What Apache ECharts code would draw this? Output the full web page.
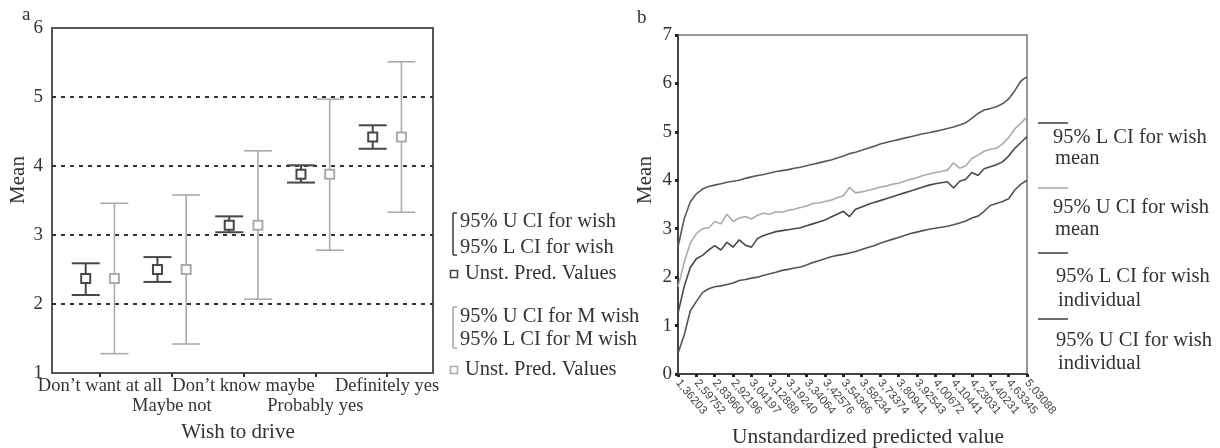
<!DOCTYPE html>
<html lang="en">
<head>
<meta charset="utf-8">
<title>Wish to drive - predicted values</title>
<script src="https://cdn.jsdelivr.net/npm/echarts@6/dist/echarts.min.js"></script>
<style>
  html, body { margin: 0; padding: 0; background: #fff; }
  #chart { width: 1220px; height: 448px; }
</style>
</head>
<body>
<div id="chart"></div>
<script>
// ---- panel a: predicted values with 95% CIs, by answer ----
const wishCategories = ['Don\u2019t want at all', 'Maybe not', 'Don\u2019t know maybe', 'Probably yes', 'Definitely yes'];
const predMean    = [2.37, 2.50, 3.14, 3.88, 4.42];
const ciWishLow   = [2.13, 2.32, 3.04, 3.76, 4.25];
const ciWishHigh  = [2.59, 2.68, 3.27, 4.01, 4.59];
const ciMWishLow  = [1.28, 1.42, 2.07, 2.78, 3.33];
const ciMWishHigh = [3.46, 3.58, 4.22, 4.97, 5.51];

// ---- panel b: CI bands along the sorted predicted value ----
const predTickLabels = ['1,36203', '2,59752', '2,83960', '2,92196', '3,04197', '3,12888', '3,19240',
  '3,34064', '3,42576', '3,54366', '3,58234', '3,73374', '3,80941', '3,92543', '4,00672',
  '4,10441', '4,23031', '4,40231', '4,63345', '5,03088'];
const stepsPerTick = 3; // points drawn between two labelled ticks

const upperIndividual = [2.62, 3.20, 3.55, 3.72, 3.82, 3.87, 3.90, 3.93, 3.96, 3.98, 4.00, 4.04, 4.07, 4.10,
  4.12, 4.15, 4.18, 4.20, 4.22, 4.25, 4.27, 4.30, 4.33, 4.36, 4.39, 4.42, 4.46, 4.50, 4.55, 4.58,
  4.62, 4.66, 4.70, 4.75, 4.78, 4.81, 4.84, 4.87, 4.90, 4.93, 4.96, 4.98, 5.01, 5.04, 5.07, 5.10,
  5.14, 5.19, 5.28, 5.38, 5.45, 5.48, 5.52, 5.58, 5.68, 5.85, 6.05, 6.14];
const upperMean = [1.80, 2.30, 2.70, 2.90, 3.00, 3.02, 3.15, 3.10, 3.30, 3.15, 3.22, 3.25, 3.20, 3.28,
  3.32, 3.30, 3.35, 3.34, 3.38, 3.40, 3.44, 3.47, 3.52, 3.53, 3.56, 3.59, 3.64, 3.68, 3.85, 3.74,
  3.76, 3.79, 3.82, 3.86, 3.88, 3.92, 3.94, 3.98, 4.02, 4.05, 4.10, 4.13, 4.16, 4.18, 4.21, 4.36,
  4.25, 4.30, 4.45, 4.52, 4.60, 4.64, 4.66, 4.75, 4.88, 5.06, 5.18, 5.31];
const lowerMean = [1.26, 1.80, 2.20, 2.38, 2.45, 2.56, 2.65, 2.56, 2.72, 2.62, 2.77, 2.66, 2.62, 2.80,
  2.86, 2.90, 2.94, 2.96, 2.98, 3.00, 3.02, 3.06, 3.10, 3.14, 3.18, 3.24, 3.30, 3.36, 3.25, 3.40,
  3.45, 3.50, 3.54, 3.58, 3.62, 3.66, 3.70, 3.74, 3.78, 3.82, 3.86, 3.90, 3.93, 3.95, 3.97, 3.84,
  3.98, 4.02, 4.16, 4.10, 4.24, 4.28, 4.32, 4.38, 4.50, 4.66, 4.78, 4.90];
const lowerIndividual = [0.43, 0.80, 1.30, 1.50, 1.68, 1.76, 1.80, 1.82, 1.85, 1.88, 1.93, 1.95, 1.98, 2.00,
  2.04, 2.07, 2.10, 2.14, 2.16, 2.19, 2.21, 2.25, 2.30, 2.34, 2.38, 2.42, 2.45, 2.47, 2.50, 2.53,
  2.57, 2.61, 2.65, 2.70, 2.74, 2.78, 2.82, 2.86, 2.90, 2.93, 2.96, 2.99, 3.01, 3.03, 3.05, 3.08,
  3.12, 3.16, 3.22, 3.26, 3.36, 3.48, 3.52, 3.56, 3.62, 3.80, 3.92, 4.00];

const SERIF = '"Liberation Serif", "DejaVu Serif", serif';
const DARK = '#474747';
const LIGHT = '#ababab';
const TEXT = '#333';
const LEG = 20.5;

// category axis for panel b: every 3rd point carries a tick label
const predCategories = upperIndividual.map((_, i) =>
  i % stepsPerTick === 0 ? predTickLabels[i / stepsPerTick] : '');

const chart = echarts.init(document.getElementById('chart'), null, { renderer: 'canvas' });

function ciBars(name, low, high, shift, color, width) {
  return {
    name: name,
    type: 'custom',
    xAxisIndex: 0, yAxisIndex: 0,
    z: 2,
    data: low.map((v, i) => [i, v, high[i]]),
    renderItem: function (params, api) {
      const x = api.value(0) + shift;
      const lo = api.coord([x, api.value(1)]);
      const hi = api.coord([x, api.value(2)]);
      const half = 14;
      const st = { stroke: color, lineWidth: width };
      return {
        type: 'group',
        children: [
          { type: 'line', shape: { x1: lo[0], y1: lo[1], x2: hi[0], y2: hi[1] }, style: st },
          { type: 'line', shape: { x1: hi[0] - half, y1: hi[1], x2: hi[0] + half, y2: hi[1] }, style: st },
          { type: 'line', shape: { x1: lo[0] - half, y1: lo[1], x2: lo[0] + half, y2: lo[1] }, style: st }
        ]
      };
    }
  };
}

function meanMarks(name, shift, color) {
  return {
    name: name,
    type: 'scatter',
    xAxisIndex: 0, yAxisIndex: 0,
    z: 3,
    symbol: 'rect',
    symbolSize: 9,
    itemStyle: { color: '#fff', borderColor: color, borderWidth: 2, opacity: 1 },
    data: predMean.map((v, i) => [i + shift, v])
  };
}

function bandLine(name, data, color) {
  return {
    name: name,
    type: 'line',
    xAxisIndex: 2, yAxisIndex: 1,
    data: data,
    showSymbol: false,
    lineStyle: { color: color, width: 1.6 },
    itemStyle: { color: color }
  };
}

function txt(text, x, y, size, extra) {
  return Object.assign({
    type: 'text', x: x, y: y, silent: true,
    style: {
      text: text, fill: TEXT, fontFamily: SERIF, fontSize: size,
      align: (extra && extra.align) || 'left', verticalAlign: 'middle'
    }
  }, extra && extra.rotation ? { rotation: extra.rotation } : {});
}

function seg(x1, y1, x2, y2, color, w) {
  return { type: 'line', silent: true, shape: { x1: x1, y1: y1, x2: x2, y2: y2 }, style: { stroke: color, lineWidth: w } };
}

function bracket(x, y1, y2, color) {
  return [seg(x, y1, x, y2, color, 1.6), seg(x, y1, x + 4, y1, color, 1.6), seg(x, y2, x + 4, y2, color, 1.6)];
}

function square(x, y, color) {
  return { type: 'rect', silent: true, shape: { x: x - 3.5, y: y - 3.5, width: 7, height: 7 },
    style: { fill: '#fff', stroke: color, lineWidth: 1.6 } };
}

// two label rows under panel a: even answers on the first row, odd ones on the second
function wishAxis(values, margin, main) {
  return {
    gridIndex: 0, type: 'value', min: -0.67, max: 4.64, position: 'bottom',
    axisLine: { show: main, lineStyle: { color: '#555', width: 2 } },
    axisTick: { show: main, customValues: [0, 1, 2, 3, 4], length: 4, lineStyle: { color: '#333', width: 2 } },
    axisLabel: {
      customValues: values, showMinLabel: true, showMaxLabel: true, hideOverlap: false,
      margin: margin, fontSize: 18.5, color: TEXT, fontFamily: SERIF,
      formatter: function (v) { return wishCategories[Math.round(v)]; }
    },
    splitLine: { show: false }
  };
}

const graphics = [
  txt('a', 22, 15, 19),
  txt('b', 637, 18, 19),
  txt('Mean', 18, 180, 21, { align: 'center', rotation: Math.PI / 2 }),
  txt('Wish to drive', 238, 432, 21, { align: 'center' }),
  txt('Mean', 645, 180, 21, { align: 'center', rotation: Math.PI / 2 }),
  txt('Unstandardized predicted value', 868, 437, 21.5, { align: 'center' }),

  // legend, panel a
  ...bracket(453, 213, 255, DARK),
  txt('95% U CI for wish', 460, 222, LEG),
  txt('95% L CI for wish', 460, 248, LEG),
  square(454, 274, DARK),
  txt('Unst. Pred. Values', 465, 274, LEG),
  ...bracket(453, 307, 348, LIGHT),
  txt('95% U CI for M wish', 460, 317, LEG),
  txt('95% L CI for M wish', 460, 340, LEG),
  square(454, 370, LIGHT),
  txt('Unst. Pred. Values', 465, 370, LEG),

  // legend, panel b
  seg(1038, 123, 1068, 123, DARK, 1.6),
  txt('95% L CI for wish', 1053, 138, LEG),
  txt('mean', 1055, 159, LEG),
  seg(1038, 188, 1068, 188, LIGHT, 1.6),
  txt('95% U CI for wish', 1053, 208, LEG),
  txt('mean', 1055, 230, LEG),
  seg(1038, 253, 1068, 253, DARK, 1.6),
  txt('95% L CI for wish', 1056, 277, LEG),
  txt('individual', 1058, 301, LEG),
  seg(1038, 319, 1068, 319, DARK, 1.6),
  txt('95% U CI for wish', 1056, 341, LEG),
  txt('individual', 1058, 364, LEG)
];

const option = {
  animation: false,
  backgroundColor: '#fff',
  textStyle: { fontFamily: SERIF, color: TEXT },
  grid: [
    { left: 52, top: 28, width: 381, height: 345, show: true, borderColor: '#555', borderWidth: 2, backgroundColor: 'transparent' },
    { left: 678, top: 35, width: 349, height: 339, show: true, borderColor: '#777', borderWidth: 1.5, backgroundColor: 'transparent' }
  ],
  xAxis: [
    wishAxis([0, 2, 4], 4, true),
    wishAxis([1, 3], 24, false),
    {
      gridIndex: 1, type: 'category', boundaryGap: false, data: predCategories,
      axisLine: { show: true, lineStyle: { color: '#444', width: 2 } },
      axisTick: { show: true, interval: stepsPerTick - 1, length: 3, lineStyle: { color: '#222', width: 3 } },
      axisLabel: { interval: stepsPerTick - 1, rotate: -50, margin: 7, fontSize: 11.5, color: '#444', fontFamily: '"Liberation Sans", Arial, sans-serif' },
      splitLine: { show: false }
    }
  ],
  yAxis: [
    {
      gridIndex: 0, type: 'value', min: 1, max: 6, interval: 1,
      axisLine: { show: false }, axisTick: { show: false },
      axisLabel: { margin: 9, fontSize: 19, color: TEXT, fontFamily: SERIF },
      splitLine: { show: true, showMinLine: false, showMaxLine: false, lineStyle: { color: '#333', width: 2, type: [4, 5] } }
    },
    {
      gridIndex: 1, type: 'value', min: 0, max: 7, interval: 1,
      axisLine: { show: true, lineStyle: { color: '#444', width: 2 } },
      axisTick: { show: true, length: 3, lineStyle: { color: '#222', width: 3 } },
      axisLabel: { margin: 6, fontSize: 19, color: TEXT, fontFamily: SERIF },
      splitLine: { show: false }
    }
  ],
  series: [
    ciBars('95% CI for wish', ciWishLow, ciWishHigh, -0.2, DARK, 2),
    ciBars('95% CI for M wish', ciMWishLow, ciMWishHigh, 0.2, LIGHT, 1.6),
    meanMarks('Unst. Pred. Values', -0.2, DARK),
    meanMarks('Unst. Pred. Values (M)', 0.2, LIGHT),
    bandLine('95% U CI for wish individual', upperIndividual, '#5a5a5a'),
    bandLine('95% U CI for wish mean', upperMean, LIGHT),
    bandLine('95% L CI for wish mean', lowerMean, '#4a4a4a'),
    bandLine('95% L CI for wish individual', lowerIndividual, '#555')
  ],
  graphic: graphics
};

chart.setOption(option);
</script>
</body>
</html>
